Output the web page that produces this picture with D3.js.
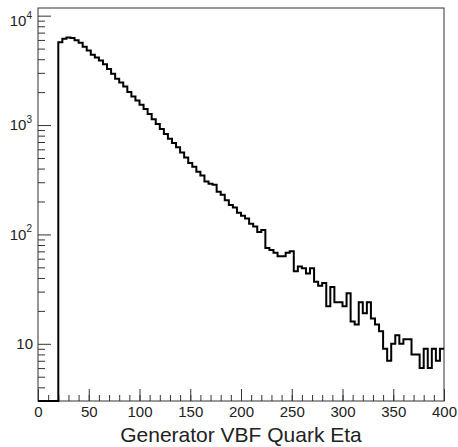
<!DOCTYPE html>
<html>
<head>
<meta charset="utf-8">
<script src="https://cdn.jsdelivr.net/npm/d3@7"></script>
<style>
  body { margin: 0; background: #fff; }
  svg { display: block; font-family: "Liberation Sans", Arial, Helvetica, sans-serif; }
</style>
</head>
<body>
<svg id="chart" width="458" height="447"></svg>
<script>
// histogram: 100 bins of width 4 from 0 to 400
const binLow = 0, binHigh = 400, binWidth = 4;
const counts = [
  0, 0, 0, 0, 0,
  5700, 6150, 6300, 6250, 5950, 5650, 5200, 4800, 4400, 4150,
  3900, 3600, 3250, 2950, 2650, 2450, 2250, 2000, 1820, 1680,
  1530, 1400, 1260, 1130, 1020, 920, 830, 750, 685, 625,
  560, 505, 450, 415, 375, 345, 305, 290, 285, 245,
  230, 205, 186, 176, 158, 148, 140, 125, 118, 105,
  110, 75, 72, 68, 63, 63, 68, 70, 46, 51,
  49, 44, 49, 37, 34, 36, 22, 33, 24, 24,
  22, 29, 16, 15, 24, 19, 24, 17, 15, 13,
  9, 7, 10, 12, 10, 11, 11, 8, 8, 6,
  9, 6, 9, 7, 9
];
const yMin = 3, yMax = 11750;
const xMajorTicks = [0, 50, 100, 150, 200, 250, 300, 350, 400];
const yDecades = [10, 100, 1000, 10000];
const xTitle = "Generator VBF Quark Eta";

const svg = d3.select("#chart");
const padL = 38, padR = 444, padT = 8, padB = 401;

const x = d3.scaleLinear().domain([binLow, binHigh]).range([padL, padR]);
const y = d3.scaleLog().domain([yMin, yMax]).range([padB, padT]);

// minor ticks every 10 on x
const xMinorTicks = d3.range(binLow, binHigh + 1, 10);
// minor ticks 2..9 of each decade on y
const yMinorTicks = [];
[1, 10, 100, 1000].forEach(d => {
  for (let k = 2; k <= 9; k++) {
    const v = d * k;
    if (v >= yMin && v <= yMax) yMinorTicks.push(v);
  }
});

const textColor = "#222";

// x axis ticks (pointing up into the frame)
svg.append("g")
  .attr("transform", `translate(0,${padB})`)
  .call(d3.axisBottom(x).tickValues(xMinorTicks).tickSize(-6).tickFormat(""))
  .call(g => g.select(".domain").remove());

const xAxis = svg.append("g")
  .attr("transform", `translate(0,${padB})`)
  .call(d3.axisBottom(x).tickValues(xMajorTicks).tickSize(-12).tickPadding(5).tickFormat(d3.format("d")));
xAxis.select(".domain").remove();
xAxis.selectAll("text").attr("font-size", 15).attr("font-family", null).attr("fill", textColor);

// y axis ticks (pointing right into the frame)
svg.append("g")
  .attr("transform", `translate(${padL},0)`)
  .call(d3.axisLeft(y).tickValues(yMinorTicks).tickSize(-7).tickFormat(""))
  .call(g => g.select(".domain").remove());

svg.append("g")
  .attr("transform", `translate(${padL},0)`)
  .call(d3.axisLeft(y).tickValues(yDecades).tickSize(-13).tickFormat(""))
  .call(g => g.select(".domain").remove());

svg.selectAll(".tick line").attr("stroke", "#333").attr("stroke-width", 1);

// y labels as 10^n
yDecades.forEach(v => {
  const n = Math.round(Math.log10(v));
  const cy = Math.max(y(v), 21);
  const t = svg.append("text")
    .attr("y", cy)
    .attr("dy", "0.36em")
    .attr("font-size", 15)
    .attr("fill", textColor)
    .attr("text-anchor", "end");
  if (n === 1) {
    t.attr("x", 33).text("10");
  } else {
    t.attr("x", 32);
    t.append("tspan").text("10");
    t.append("tspan").attr("font-size", 10).attr("dy", "-0.75em").text(n);
  }
});

// frame
svg.append("rect")
  .attr("x", padL).attr("y", padT)
  .attr("width", padR - padL).attr("height", padB - padT)
  .attr("fill", "none").attr("stroke", "#333").attr("stroke-width", 1);

// histogram outline
const pts = counts.map((c, i) => [binLow + i * binWidth, Math.max(c, yMin)]);
pts.push([binHigh, Math.max(counts[counts.length - 1], yMin)]);

const line = d3.line()
  .x(d => x(d[0]))
  .y(d => y(d[1]))
  .curve(d3.curveStepAfter);

svg.append("path")
  .datum(pts)
  .attr("d", line)
  .attr("fill", "none")
  .attr("stroke", "#000")
  .attr("stroke-width", 2);

// x title, centred under the axis
svg.append("text")
  .attr("x", (padL + padR) / 2)
  .attr("y", 442)
  .attr("text-anchor", "middle")
  .attr("font-size", 21)
  .attr("fill", textColor)
  .text(xTitle);
</script>
</body>
</html>
